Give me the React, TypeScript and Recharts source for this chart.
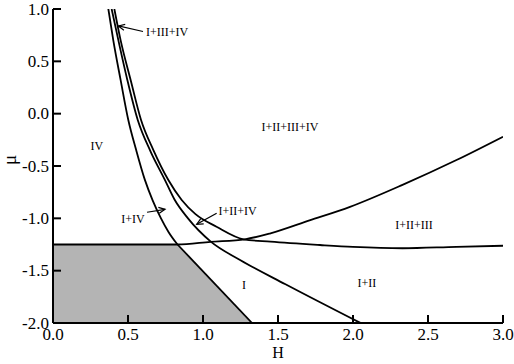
import {
  ComposedChart,
  Line,
  Area,
  XAxis,
  YAxis,
  ReferenceLine,
  ReferenceDot
} from "recharts";

const FONT = '"Liberation Serif", "Times New Roman", serif';

const hTicks = [0, 0.5, 1, 1.5, 2, 2.5, 3];
const muTicks = [-2, -1.5, -1, -0.5, 0, 0.5, 1];

// left boundary (IV | I+IV), curved part
const curveA = [
  { h: 0.369, mu: 1.0 },
  { h: 0.402, mu: 0.7 },
  { h: 0.451, mu: 0.32 },
  { h: 0.502, mu: -0.06 },
  { h: 0.555, mu: -0.35 },
  { h: 0.612, mu: -0.63 },
  { h: 0.665, mu: -0.83 },
  { h: 0.72, mu: -1.0 },
  { h: 0.77, mu: -1.13 },
  { h: 0.83, mu: -1.25 }
];

// straight edge of the shaded region
const curveAEdge = [
  { h: 0.83, mu: -1.25 },
  { h: 1.327, mu: -2.0 }
];

const curveB = [
  { h: 0.391, mu: 1.0 },
  { h: 0.436, mu: 0.7 },
  { h: 0.496, mu: 0.32 },
  { h: 0.565, mu: -0.06 },
  { h: 0.65, mu: -0.36 },
  { h: 0.745, mu: -0.63 },
  { h: 0.81, mu: -0.82 },
  { h: 0.9, mu: -1.0 },
  { h: 1.05, mu: -1.22 },
  { h: 1.25, mu: -1.4 },
  { h: 1.55, mu: -1.63 },
  { h: 2.05, mu: -2.0 }
];

const curveC = [
  { h: 0.409, mu: 1.0 },
  { h: 0.451, mu: 0.7 },
  { h: 0.518, mu: 0.32 },
  { h: 0.587, mu: -0.06 },
  { h: 0.67, mu: -0.35 },
  { h: 0.769, mu: -0.634 },
  { h: 0.858, mu: -0.825 },
  { h: 0.95, mu: -0.96 },
  { h: 1.09, mu: -1.08 },
  { h: 1.27, mu: -1.2 },
  { h: 1.45, mu: -1.223 },
  { h: 1.78, mu: -1.255 },
  { h: 2.0, mu: -1.273 },
  { h: 2.33, mu: -1.286 },
  { h: 2.69, mu: -1.272 },
  { h: 3.0, mu: -1.262 }
];

const curveD = [
  { h: 0.0, mu: -1.25 },
  { h: 0.83, mu: -1.25 },
  { h: 1.05, mu: -1.225 },
  { h: 1.28, mu: -1.2 },
  { h: 1.45, mu: -1.143 },
  { h: 1.71, mu: -1.02 },
  { h: 1.98, mu: -0.89 },
  { h: 2.33, mu: -0.68 },
  { h: 2.69, mu: -0.443 },
  { h: 3.0, mu: -0.22 }
];

const shaded = [
  { h: 0.0, mu: -1.25 },
  { h: 0.83, mu: -1.25 },
  { h: 1.327, mu: -2.0 }
];

const regionLabels = [
  { text: "IV", h: 0.293, mu: -0.309 },
  { text: "I+III+IV", h: 0.76, mu: 0.78 },
  { text: "I+II+III+IV", h: 1.58, mu: -0.127 },
  { text: "I+IV", h: 0.533, mu: -1.006 },
  { text: "I+II+IV", h: 1.23, mu: -0.93 },
  { text: "I+II+III", h: 2.407, mu: -1.064 },
  { text: "I+II", h: 2.093, mu: -1.618 },
  { text: "I", h: 1.273, mu: -1.637 }
];

const arrows = [
  { from: { h: 0.6, mu: 0.785 }, to: { h: 0.436, mu: 0.838 } },
  { from: { h: 0.627, mu: -0.942 }, to: { h: 0.747, mu: -0.914 } },
  { from: { h: 1.091, mu: -0.952 }, to: { h: 0.958, mu: -1.057 } }
];

const BottomTick = ({ x, y, payload }: any) => (
  <g>
    <line x1={x} y1={y} x2={x} y2={y - 8} stroke="#000" strokeWidth={2} />
    <text x={x} y={y + 17} textAnchor="middle" fontSize={17} fontFamily={FONT} fill="#000">
      {Number(payload.value).toFixed(1)}
    </text>
  </g>
);

const TopTick = ({ x, y }: any) => (
  <line x1={x} y1={y} x2={x} y2={y + 8} stroke="#000" strokeWidth={2} />
);

const LeftTick = ({ x, y, payload }: any) => (
  <g>
    <line x1={x} y1={y} x2={x + 8} y2={y} stroke="#000" strokeWidth={2} />
    <text x={x - 4} y={y} textAnchor="end" dominantBaseline="central" fontSize={17} fontFamily={FONT} fill="#000">
      {Number(payload.value).toFixed(1)}
    </text>
  </g>
);

const RightTick = ({ x, y }: any) => (
  <line x1={x} y1={y} x2={x - 8} y2={y} stroke="#000" strokeWidth={2} />
);

const Arrow = ({ x1, y1, x2, y2 }: any) => {
  const a = Math.atan2(y2 - y1, x2 - x1);
  const len = 7;
  const spread = 0.45;
  const p1x = x2 - len * Math.cos(a - spread);
  const p1y = y2 - len * Math.sin(a - spread);
  const p2x = x2 - len * Math.cos(a + spread);
  const p2y = y2 - len * Math.sin(a + spread);
  return (
    <g>
      <line x1={x1} y1={y1} x2={x2} y2={y2} stroke="#000" strokeWidth={1.2} />
      <polyline
        points={`${p1x},${p1y} ${x2},${y2} ${p2x},${p2y}`}
        fill="none"
        stroke="#000"
        strokeWidth={1.2}
      />
    </g>
  );
};

export default function App() {
  const lineProps = {
    dataKey: "mu",
    stroke: "#000",
    strokeWidth: 1.8,
    dot: false,
    activeDot: false,
    isAnimationActive: false
  };

  return (
    <div style={{ position: "absolute", left: 0, top: 0 }}>
      <ComposedChart
        width={514}
        height={364}
        margin={{ top: 9, right: 11, bottom: 0, left: 0 }}
      >
        <XAxis
          dataKey="h"
          type="number"
          domain={[0, 3]}
          ticks={hTicks}
          interval={0}
          allowDataOverflow
          height={41}
          tickSize={0}
          tickMargin={0}
          tickLine={false}
          axisLine={{ stroke: "#000", strokeWidth: 2 }}
          tick={<BottomTick />}
          label={{
            content: ({ viewBox }: any) => (
              <text
                x={viewBox.x + viewBox.width / 2}
                y={viewBox.y + 35}
                textAnchor="middle"
                fontSize={16}
                fontFamily={FONT}
                fill="#000"
              >
                H
              </text>
            )
          }}
        />
        <XAxis
          xAxisId="top"
          dataKey="h"
          type="number"
          orientation="top"
          domain={[0, 3]}
          ticks={hTicks}
          interval={0}
          allowDataOverflow
          height={0}
          tickSize={0}
          tickMargin={0}
          tickLine={false}
          axisLine={{ stroke: "#000", strokeWidth: 2 }}
          tick={<TopTick />}
        />
        <YAxis
          type="number"
          domain={[-2, 1]}
          ticks={muTicks}
          interval={0}
          allowDataOverflow
          width={53}
          tickSize={0}
          tickMargin={0}
          tickLine={false}
          axisLine={{ stroke: "#000", strokeWidth: 2 }}
          tick={<LeftTick />}
          label={{
            content: ({ viewBox }: any) => (
              <text
                x={viewBox.x + 9}
                y={160}
                transform={`rotate(-90 ${viewBox.x + 9} 160)`}
                textAnchor="middle"
                dominantBaseline="central"
                fontSize={19}
                fontFamily={FONT}
                fill="#000"
              >
                μ
              </text>
            )
          }}
        />
        <YAxis
          yAxisId="right"
          type="number"
          orientation="right"
          domain={[-2, 1]}
          ticks={muTicks}
          interval={0}
          allowDataOverflow
          width={0}
          tickSize={0}
          tickMargin={0}
          tickLine={false}
          axisLine={{ stroke: "#000", strokeWidth: 2 }}
          tick={<RightTick />}
        />

        <Area
          data={shaded}
          dataKey="mu"
          type="linear"
          baseValue={-2}
          fill="#b4b4b4"
          fillOpacity={1}
          stroke="none"
          isAnimationActive={false}
        />

        <Line data={curveA} type="monotone" {...lineProps} />
        <Line data={curveAEdge} type="linear" {...lineProps} />
        <Line data={curveB} type="monotone" {...lineProps} />
        <Line data={curveC} type="monotone" {...lineProps} />
        <Line data={curveD} type="monotone" {...lineProps} />

        {arrows.map((a, i) => (
          <ReferenceLine
            key={`arrow-${i}`}
            segment={[
              { x: a.from.h, y: a.from.mu },
              { x: a.to.h, y: a.to.mu }
            ]}
            shape={<Arrow />}
          />
        ))}

        {regionLabels.map((l) => (
          <ReferenceDot
            key={l.text}
            x={l.h}
            y={l.mu}
            r={0}
            shape={(p: any) => (
              <text
                x={p.cx}
                y={p.cy}
                textAnchor="middle"
                dominantBaseline="central"
                fontSize={12}
                fontFamily={FONT}
                fill="#000"
              >
                {l.text}
              </text>
            )}
          />
        ))}
      </ComposedChart>
    </div>
  );
}
